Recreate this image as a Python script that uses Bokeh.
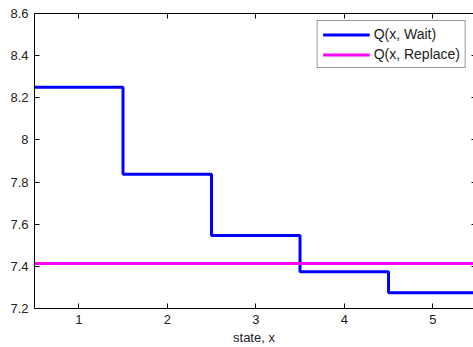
from bokeh.plotting import figure
from bokeh.models import Range1d, FixedTicker, LinearAxis, Legend, LegendItem, CustomJSTickFormatter
from bokeh.embed import file_html
from bokeh.resources import INLINE

# data
states = [1, 2, 3, 4, 5]
q_wait = [8.250, 7.837, 7.547, 7.374, 7.275]
q_replace = 7.414
x_ticks = [1, 2, 3, 4, 5]
y_ticks = [7.2, 7.4, 7.6, 7.8, 8.0, 8.2, 8.4, 8.6]
x_label = "state, x"
series_names = ["Q(x, Wait)", "Q(x, Replace)"]

edges = [s - 0.5 for s in states] + [states[-1] + 0.5]
wait_vals = q_wait + [q_wait[-1]]

FONT = "Liberation Sans"
TXT = "#222222"

p = figure(width=473, height=347, output_backend="svg", toolbar_location=None,
           x_range=Range1d(0.5, 5.46), y_range=Range1d(7.2, 8.6),
           min_border_left=34, min_border_top=13, min_border_right=0, min_border_bottom=0,
           x_axis_label=x_label)
p.grid.visible = False
p.outline_line_color = None
p.background_fill_color = "white"
p.border_fill_color = "white"

r_wait = p.step(edges, wait_vals, mode="after", line_color="#0000FF", line_width=3)
r_rep = p.line([edges[0], edges[-1]], [q_replace, q_replace], line_color="#FF00FF", line_width=3)

fmt = CustomJSTickFormatter(code="return String(Math.round(tick*10)/10);")
blank = CustomJSTickFormatter(code="return '';")

def style(ax, labels=True):
    ax.axis_line_color = "black"
    ax.major_tick_in = 5
    ax.major_tick_out = 0
    ax.minor_tick_in = 0
    ax.minor_tick_out = 0
    ax.major_tick_line_color = "black"
    ax.major_label_text_font = FONT
    ax.major_label_text_font_size = "13px"
    ax.major_label_text_color = TXT
    ax.major_label_standoff = 6 if labels else 0
    if not labels:
        ax.formatter = blank

xa = p.xaxis[0]
xa.ticker = FixedTicker(ticks=x_ticks)
style(xa)
xa.axis_label_text_font = FONT
xa.axis_label_text_font_size = "13px"
xa.axis_label_text_font_style = "normal"
xa.axis_label_text_color = TXT
xa.axis_label_standoff = 3

ya = p.yaxis[0]
ya.ticker = FixedTicker(ticks=y_ticks)
ya.formatter = fmt
style(ya)

top = LinearAxis(ticker=FixedTicker(ticks=x_ticks))
style(top, labels=False)
p.add_layout(top, "above")
right = LinearAxis(ticker=FixedTicker(ticks=y_ticks))
style(right, labels=False)
right.axis_line_color = None
right.major_tick_in = 2
p.add_layout(right, "right")

legend = Legend(items=[LegendItem(label=series_names[0], renderers=[r_wait]),
                       LegendItem(label=series_names[1], renderers=[r_rep])],
                location="top_right")
legend.label_text_font = FONT
legend.label_text_font_size = "14px"
legend.label_text_color = TXT
legend.glyph_width = 47
legend.glyph_height = 15
legend.label_height = 15
legend.padding = 5
legend.spacing = 4
legend.label_standoff = 4
legend.border_line_color = "#333333"
legend.border_line_width = 1
legend.margin = 7
legend.background_fill_alpha = 1
p.add_layout(legend, "center")

open("out.html", "w").write(file_html(p, INLINE))
